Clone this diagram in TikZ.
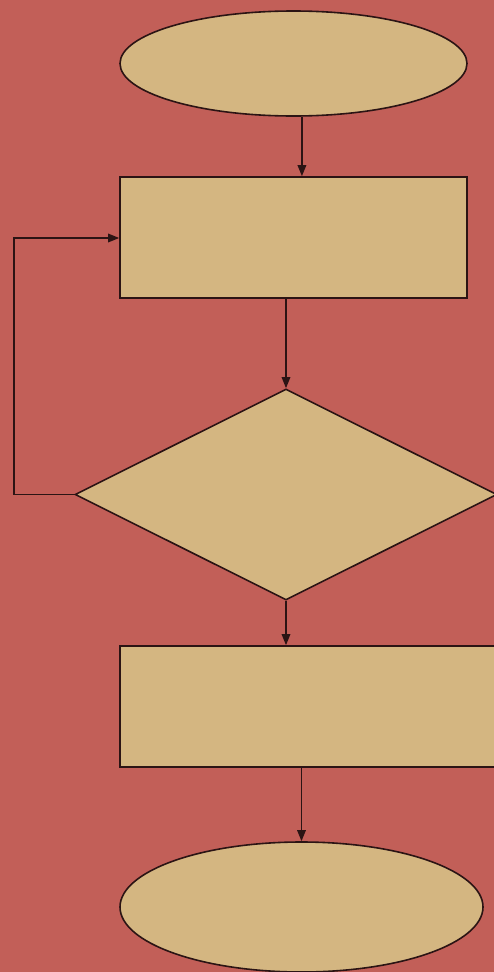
\documentclass[tikz,border=0pt]{standalone}
\usetikzlibrary{shapes.geometric,arrows.meta}
\definecolor{bgc}{HTML}{C25F58}
\definecolor{fillc}{HTML}{D4B681}
\definecolor{linec}{HTML}{2B1414}
\begin{document}
\begin{tikzpicture}[x=1pt,y=-1pt,
  shapebox/.style={draw=linec,fill=fillc,line width=1.6pt,inner sep=0pt},
  arr/.style={draw=linec,line width=1.6pt,-{Triangle[length=11pt,width=8.5pt]}}]
\fill[bgc] (0,0) rectangle (494,972);
\useasboundingbox (0,0) rectangle (494,972);
\node[shapebox,ellipse,minimum width=347pt,minimum height=105pt] (e1) at (293.5,63.5) {};
\node[shapebox,rectangle,minimum width=347pt,minimum height=121pt] (r1) at (293.5,237.5) {};
\node[shapebox,diamond,minimum width=422pt,minimum height=211pt,aspect=2] (d) at (286,494.5) {};
\node[shapebox,rectangle,minimum width=390pt,minimum height=121pt] (r2) at (315,706.5) {};
\node[shapebox,ellipse,minimum width=363pt,minimum height=130pt] (e2) at (301.5,907) {};
\coordinate (lb) at (14,494.5);
\coordinate (lt) at (14,238);
\draw[arr] (e1.-81.9) -- (e1.-81.9 |- r1.north);
\draw[arr] (d.north |- r1.south) -- (d.north);
\draw[arr] (d.south) -- (d.south |- r2.north);
\draw[arr] (r2.south -| e2.north) -- (e2.north);
\draw[arr] (d.west) -- (lb) -- (lt) -- (lt -| r1.west);
\end{tikzpicture}
\end{document}
